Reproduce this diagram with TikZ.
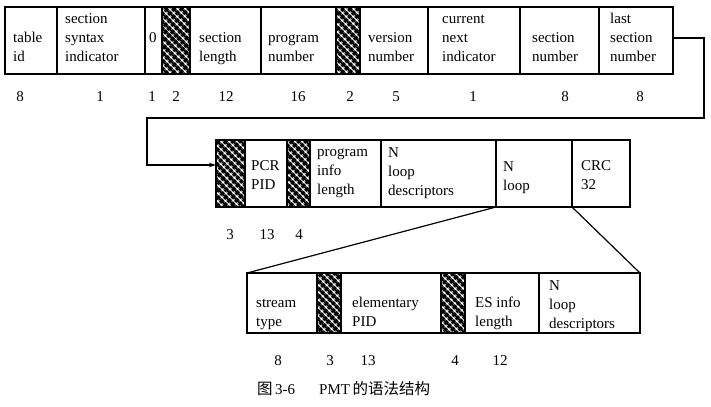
\documentclass[tikz,border=0pt]{standalone}
\usepackage{fontspec}
\setmainfont{Liberation Serif}
\newfontfamily\cjk{Noto Sans CJK SC}
\usetikzlibrary{patterns.meta,arrows.meta,calc}
\tikzset{
  box/.style={draw, line width=1.3bp, inner sep=0pt, outer sep=0pt, anchor=north west},
  hatchbox/.style={box, pattern={Hatch[angle=45,distance=5.2bp,line width=3bp]}},
  lbl/.style={inner sep=0pt, anchor=base west, align=left, font=\fontsize{15bp}{19bp}\selectfont},
  num/.style={inner sep=0pt, anchor=base, font=\fontsize{15bp}{19bp}\selectfont},
  conn/.style={line width=1.2bp},
}
\begin{document}
\begin{tikzpicture}[x=1bp,y=-1bp]
\useasboundingbox (0,0) rectangle (711,406);
% ---------- row 1 ----------
\node[box, minimum width=52bp, minimum height=67bp] (tid) at (5,7) {};
\node[box, minimum width=88bp, minimum height=67bp] (ssi) at (57,7) {};
\node[box, minimum width=17bp, minimum height=67bp] (zero) at (145,7) {};
\node[hatchbox, minimum width=28bp, minimum height=67bp] (h1) at (162,7) {};
\node[box, minimum width=71bp, minimum height=67bp] (slen) at (190,7) {};
\node[box, minimum width=75bp, minimum height=67bp] (pnum) at (261,7) {};
\node[hatchbox, minimum width=24bp, minimum height=67bp] (h2) at (336,7) {};
\node[box, minimum width=68bp, minimum height=67bp] (vnum) at (360,7) {};
\node[box, minimum width=92bp, minimum height=67bp] (cni) at (428,7) {};
\node[box, minimum width=79bp, minimum height=67bp] (snum) at (520,7) {};
\node[box, minimum width=74bp, minimum height=67bp] (lsn) at (599,7) {};

\node[lbl] (t1) at (13,61) {table\\id};
\node[lbl] (t2) at (65,61) {section\\syntax\\indicator};
\node[lbl] (t3) at (149,42) {0};
\node[lbl] (t4) at (199,61) {section\\length};
\node[lbl] (t5) at (268,61) {program\\number};
\node[lbl] (t6) at (368,61) {version\\number};
\node[lbl] (t7) at (442,61) {current\\next\\indicator};
\node[lbl] (t8) at (532,61) {section\\number};
\node[lbl] (t9) at (610,61) {last\\section\\number};

\foreach \x/\n [count=\i] in {20/8,100/1,152/1,176/2,226/12,298/16,350/2,396/5,473/1,565/8,640/8}
  \node[num] (na\i) at (\x,101) {\n};

% ---------- row 2 ----------
\node[hatchbox, minimum width=29bp, minimum height=67bp] (h3) at (216,140) {};
\node[box, minimum width=42bp, minimum height=67bp] (pcr) at (245,140) {};
\node[hatchbox, minimum width=23bp, minimum height=67bp] (h4) at (287,140) {};
\node[box, minimum width=71bp, minimum height=67bp] (pil) at (310,140) {};
\node[box, minimum width=115bp, minimum height=67bp] (nld) at (381,140) {};
\node[box, minimum width=76bp, minimum height=67bp] (nloop) at (496,140) {};
\node[box, minimum width=58bp, minimum height=67bp] (crc) at (572,140) {};

\node[lbl] (u1) at (251,189) {PCR\\PID};
\node[lbl] (u2) at (317,194) {program\\info\\length};
\node[lbl] (u3) at (388,195) {N\\loop\\descriptors};
\node[lbl] (u4) at (503,190) {N\\loop};
\node[lbl] (u5) at (581,189) {CRC\\32};

\foreach \x/\n [count=\i] in {230/3,267/13,299/4}
  \node[num] (nb\i) at (\x,239) {\n};

% ---------- row 3 ----------
\node[box, minimum width=70bp, minimum height=60bp] (st) at (247,273) {};
\node[hatchbox, minimum width=24bp, minimum height=60bp] (h5) at (317,273) {};
\node[box, minimum width=100bp, minimum height=60bp] (epid) at (341,273) {};
\node[hatchbox, minimum width=24bp, minimum height=60bp] (h6) at (441,273) {};
\node[box, minimum width=74bp, minimum height=60bp] (esil) at (465,273) {};
\node[box, minimum width=101bp, minimum height=60bp] (nld2) at (539,273) {};

\node[lbl] (v1) at (256,326) {stream\\type};
\node[lbl] (v2) at (352,326) {elementary\\PID};
\node[lbl] (v3) at (475,326) {ES info\\length};
\node[lbl] (v4) at (549,328) {N\\loop\\descriptors};

\foreach \x/\n [count=\i] in {278/8,330/3,368/13,455/4,500/12}
  \node[num] (nc\i) at (\x,365) {\n};

% ---------- caption ----------
\node[inner sep=0pt, anchor=base west, font=\fontsize{15bp}{19bp}\selectfont] (cap) at (257,394)
  {{\cjk\fontsize{15.5bp}{19bp}\selectfont 图}\,3-6\hspace{24bp}PMT\,{\cjk\fontsize{15.5bp}{19bp}\selectfont 的语法结构}};

% ---------- connectors ----------
\coordinate (c1) at (704,38);
\coordinate (c2) at (704,118);
\coordinate (c3) at (147,118);
\coordinate (c4) at (147,165);
\draw[conn, -{Stealth[length=7bp,width=4.5bp]}] (lsn.east |- c1) -- (c1) -- (c2) -- (c3) -- (c4) -- (h3.west |- c4);
\draw[conn] (nloop.south west) -- (st.north west);
\draw[conn] (crc.south west) -- (nld2.north east);
\end{tikzpicture}
\end{document}
